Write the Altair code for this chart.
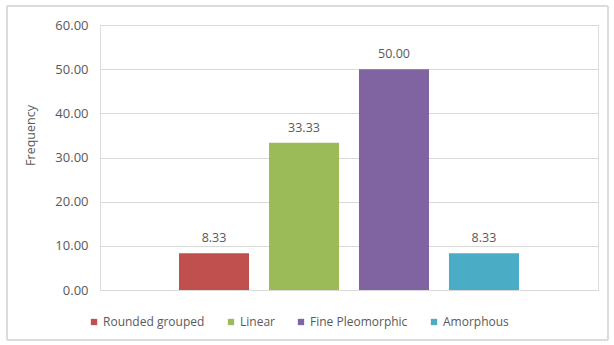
import altair as alt
import pandas as pd

categories = ["Rounded grouped", "Linear", "Fine Pleomorphic", "Amorphous"]
values = [8.33, 33.33, 50.00, 8.33]
colors = ["#c0504d", "#9bbb59", "#8064a2", "#4bacc6"]
y_ticks = [0, 10, 20, 30, 40, 50, 60]

df = pd.DataFrame({"category": categories, "value": values})

FONT = "Open Sans"
TXT = "#595959"

x_enc = alt.X(
    "category:N",
    sort=categories,
    axis=None,
    scale=alt.Scale(paddingInner=0.222, paddingOuter=0.878),
)

bars = alt.Chart(df).mark_bar().encode(
    x=x_enc,
    y=alt.Y(
        "value:Q",
        scale=alt.Scale(domain=[0, 60]),
        axis=alt.Axis(
            values=y_ticks,
            format=".2f",
            title="Frequency",
            grid=True,
            gridColor="#d9d9d9",
            domain=False,
            ticks=False,
            labelPadding=12,
            labelColor=TXT,
            labelFont=FONT,
            labelFontSize=13,
            titleColor=TXT,
            titleFont=FONT,
            titleFontSize=12.5,
            titleFontWeight="normal",
            titleX=-70,
            titleY=110,
            titleAlign="center",
            titleBaseline="middle",
            titleAngle=270,
        ),
    ),
    color=alt.Color(
        "category:N",
        sort=categories,
        scale=alt.Scale(domain=categories, range=colors),
        legend=alt.Legend(
            title=None,
            orient="none",
            legendX=-12,
            legendY=291,
            direction="horizontal",
            columns=4,
            symbolType="square",
            symbolSize=40,
            symbolStrokeWidth=0,
            labelColor=TXT,
            labelFont=FONT,
            labelFontSize=12,
            labelOffset=3,
            columnPadding=20,
            labelLimit=300,
            padding=0,
        ),
    ),
)

labels = alt.Chart(df).mark_text(
    baseline="bottom", dy=-8, font=FONT, fontSize=12.5, color=TXT
).encode(
    x=x_enc,
    y=alt.Y("value:Q"),
    text=alt.Text("value:Q", format=".2f"),
)

border = alt.Chart(df).mark_rect(
    fill=None, stroke="#d9d9d9", strokeWidth=1, clip=False
).encode(
    x=alt.value(-93), x2=alt.value(508), y=alt.value(-19), y2=alt.value(315)
)

chart = alt.layer(border, bars, labels).properties(
    width=498,
    height=265,
    autosize=alt.AutoSizeParams(type="none"),
    padding={"left": 100, "top": 25, "right": 16, "bottom": 55},
).configure_view(stroke=None).configure(background="white")

chart.save("out.html", embed_options={"renderer": "svg", "actions": False})
